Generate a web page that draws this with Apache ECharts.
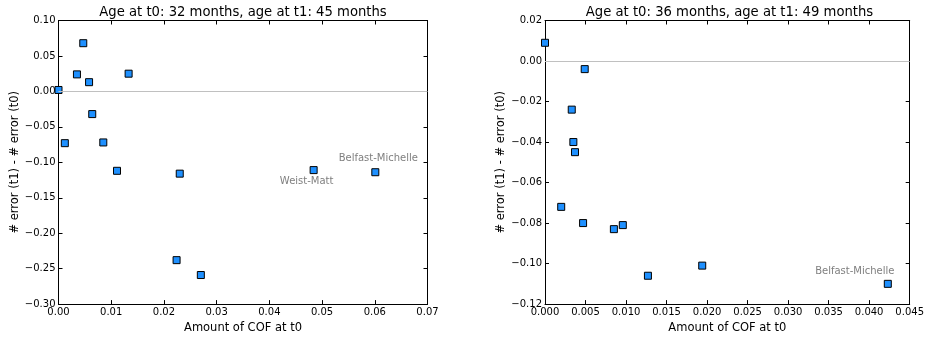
<!DOCTYPE html>
<html>
<head>
<meta charset="utf-8">
<script src="https://cdn.jsdelivr.net/npm/echarts@6/dist/echarts.min.js"></script>
<style>
html,body{margin:0;padding:0;background:#fff;}
#c{width:927px;height:339px;}
</style>
</head>
<body>
<div id="c"></div>
<script>
// ---- Data ----
const leftTitle = "Age at t0: 32 months, age at t1: 45 months";
const rightTitle = "Age at t0: 36 months, age at t1: 49 months";
const xAxisName = "Amount of COF at t0";
const yAxisName = "# error (t1) - # error (t0)";

const leftX = [0.0000, 0.0012, 0.0035, 0.0047, 0.0058, 0.0064, 0.0085, 0.0133, 0.0111, 0.0230, 0.0484, 0.0601, 0.0224, 0.0270];
const leftY = [0.002, -0.073, 0.024, 0.068, 0.013, -0.032, -0.072, 0.025, -0.112, -0.116, -0.111, -0.114, -0.238, -0.259];
const leftNames = ["", "", "", "", "", "", "", "", "", "", "Weist-Matt", "Belfast-Michelle", "", ""];

const rightX = [0.0000, 0.0049, 0.0033, 0.0035, 0.0037, 0.0020, 0.0047, 0.0085, 0.0096, 0.0127, 0.0194, 0.0423];
const rightY = [0.009, -0.004, -0.024, -0.040, -0.045, -0.072, -0.080, -0.083, -0.081, -0.106, -0.101, -0.110];
const rightNames = ["", "", "", "", "", "", "", "", "", "", "", "Belfast-Michelle"];

const leftXTicks = {min: 0, max: 0.07, interval: 0.01, digits: 2};
const leftYTicks = {min: -0.30, max: 0.10, interval: 0.05, digits: 2};
const rightXTicks = {min: 0, max: 0.045, interval: 0.005, digits: 3};
const rightYTicks = {min: -0.12, max: 0.02, interval: 0.02, digits: 2};

// label placement (style)
const labelOffsets = {
  "L-Weist-Matt": {position: 'bottom', offset: [-7, -3]},
  "L-Belfast-Michelle": {position: 'top', offset: [3, 0]},
  "R-Belfast-Michelle": {position: 'top', offset: [-33, 2]}
};

// ---- Chart ----
const FONT = 'DejaVu Sans';
const chart = echarts.init(document.getElementById('c'), null, {renderer: 'canvas'});

function fmt(d) {
  return function (v) {
    const s = Math.abs(v) < 1e-12 ? (0).toFixed(d) : v.toFixed(d);
    return s.replace('-', '\u2212');
  };
}

function mkX(t, gi, pos, showLabel, name) {
  return {
    type: 'value', gridIndex: gi, position: pos,
    min: t.min, max: t.max, interval: t.interval,
    name: name || '', nameLocation: 'middle', nameGap: 17,
    nameTextStyle: {fontFamily: FONT, fontSize: 11.5, color: '#000'},
    axisLine: {show: true, onZero: false, lineStyle: {color: '#000', width: 1}},
    axisTick: {show: true, inside: true, length: 4, lineStyle: {color: '#000'}},
    axisLabel: {show: showLabel, fontFamily: FONT, fontSize: 10, color: '#000', margin: 3, formatter: fmt(t.digits)},
    splitLine: {show: false}
  };
}
function mkY(t, gi, pos, showLabel, name) {
  return {
    type: 'value', gridIndex: gi, position: pos,
    min: t.min, max: t.max, interval: t.interval,
    name: name || '', nameLocation: 'middle', nameGap: 37,
    nameTextStyle: {fontFamily: FONT, fontSize: 11.5, color: '#000'},
    axisLine: {show: true, onZero: false, lineStyle: {color: '#000', width: 1}},
    axisTick: {show: true, inside: true, length: 4, lineStyle: {color: '#000'}},
    axisLabel: {show: showLabel, fontFamily: FONT, fontSize: 10, color: '#000', margin: 3, formatter: fmt(t.digits)},
    splitLine: {show: false}
  };
}

function mkData(xs, ys, names, side) {
  return xs.map(function (x, i) {
    const d = {value: [x, ys[i]], name: names[i]};
    if (names[i]) {
      const o = labelOffsets[side + '-' + names[i]];
      d.label = {show: true, formatter: names[i], position: o.position, offset: o.offset,
        color: '#7f7f7f', fontFamily: FONT, fontSize: 10};
    }
    return d;
  });
}

function mkSeries(xs, ys, names, side, xi, yi) {
  return {
    type: 'scatter', xAxisIndex: xi, yAxisIndex: yi,
    symbol: 'rect', symbolSize: 7,
    itemStyle: {color: '#1E90FF', borderColor: '#000', borderWidth: 1, opacity: 1},
    data: mkData(xs, ys, names, side),
    markLine: {
      silent: true, symbol: ['none', 'none'],
      label: {show: false},
      lineStyle: {color: '#c0c0c0', width: 1, type: 'solid'},
      data: [{yAxis: 0}]
    },
    z: 3
  };
}

chart.setOption({
  animation: false,
  backgroundColor: '#fff',
  title: [
    {text: leftTitle, left: 243, top: 6, padding: 0, textAlign: 'center',
      textStyle: {fontFamily: FONT, fontSize: 13.2, fontWeight: 'normal', color: '#000'}},
    {text: rightTitle, left: 729.5, top: 6, padding: 0, textAlign: 'center',
      textStyle: {fontFamily: FONT, fontSize: 13.2, fontWeight: 'normal', color: '#000'}}
  ],
  grid: [
    {left: 58.5, top: 20.5, width: 369, height: 285, containLabel: false},
    {left: 545, top: 20.5, width: 369, height: 285, containLabel: false}
  ],
  xAxis: [
    mkX(leftXTicks, 0, 'bottom', true, xAxisName),
    mkX(leftXTicks, 0, 'top', false),
    mkX(rightXTicks, 1, 'bottom', true, xAxisName),
    mkX(rightXTicks, 1, 'top', false)
  ],
  yAxis: [
    mkY(leftYTicks, 0, 'left', true, yAxisName),
    mkY(leftYTicks, 0, 'right', false),
    mkY(rightYTicks, 1, 'left', true, yAxisName),
    mkY(rightYTicks, 1, 'right', false)
  ],
  series: [
    mkSeries(leftX, leftY, leftNames, 'L', 0, 0),
    mkSeries(rightX, rightY, rightNames, 'R', 2, 2)
  ]
});
</script>
</body>
</html>
